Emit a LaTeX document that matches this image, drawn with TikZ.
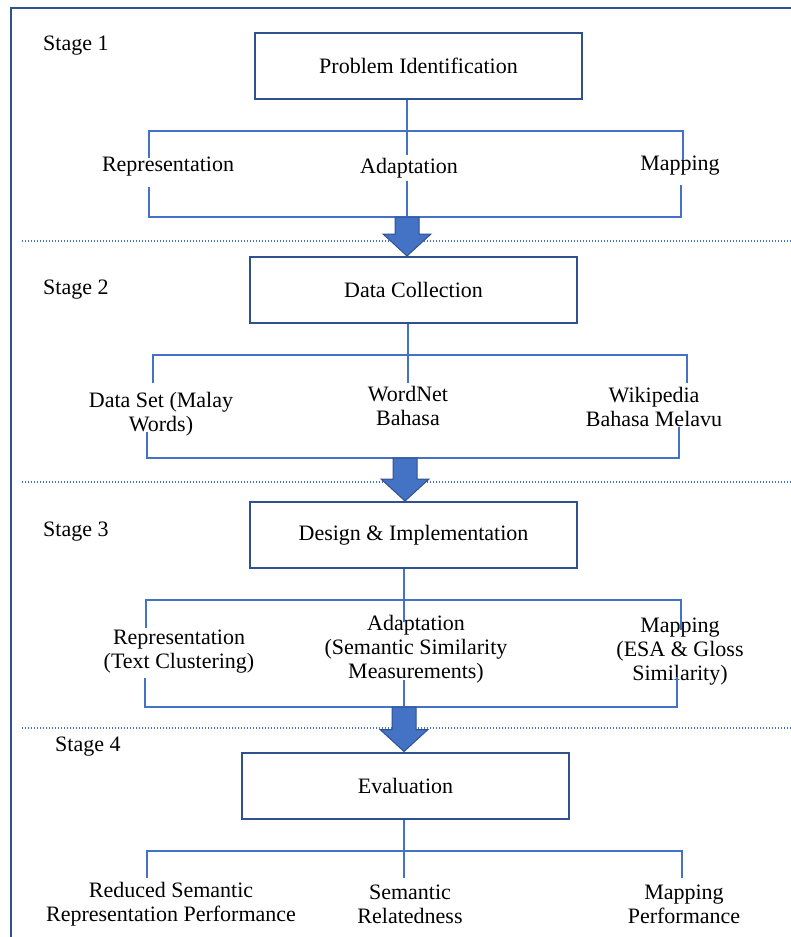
\documentclass[tikz,border=0pt]{standalone}
\usepackage{fontspec}
\setmainfont{Liberation Serif}
\usetikzlibrary{calc}
\definecolor{edgeblue}{HTML}{2F528F}
\definecolor{fillblue}{HTML}{4472C4}

\begin{document}
\begin{tikzpicture}[x=1pt,y=-1pt,
  box/.style={draw=edgeblue,line width=2pt,minimum width=327pt,minimum height=66pt,font=\fontsize{22}{24}\selectfont},
  item/.style={align=center,font=\fontsize{22}{24}\selectfont,inner sep=3pt},
  stagelbl/.style={anchor=west,font=\fontsize{22}{24}\selectfont,inner sep=0pt},
  link/.style={draw=fillblue,line width=1.6pt},
  sepline/.style={fillblue,line width=1.3pt,dash pattern=on 1.3pt off 1.7pt},
  blockarrow/.style={fill=fillblue,draw=edgeblue,line width=1pt,line join=miter}]
  \useasboundingbox (0,0) rectangle (791,937);

  % outer frame, cut by the page edge
  \draw[edgeblue,line width=1.8pt] (11,945) -- (11,8) -- (800,8);

  % stage separators
  \foreach \y in {241,482,728}
    \draw[sepline] (22,\y) -- (791,\y);

  % Stage 1
  \node[stagelbl] (st1) at (43,46) {Stage 1};
  \node[box] (b1) at (418.5,65.5) {Problem Identification};
  \node[item] (rep1) at (168,167) {Representation};
  \node[item] (ada1) at (409,168) {Adaptation};
  \node[item] (map1) at (680,166) {Mapping};
  \coordinate (s1) at (407,217);
  \draw[link] (149,158) -- (149,131) -- (683,131) -- (683,160);
  \draw[link] (149,187) -- (149,217) -- (681,217) -- (681,185);
  \draw[link] (b1.south -| s1) -- (ada1.north -| s1);
  \draw[link] (ada1.south -| s1) -- (s1);

  % Stage 2
  \node[stagelbl] (st2) at (43,290) {Stage 2};
  \node[box] (b2) at (413.5,290) {Data Collection};
  \node[item] (ds) at (161,414) {Data Set (Malay\\Words)};
  \node[item] (wn) at (408,406) {WordNet\\Bahasa};
  \node[item] (wk) at (654,407) {Wikipedia\\Bahasa Melavu};
  \coordinate (s2) at (405,458);
  \draw[link] (153,383) -- (153,355) -- (687,355) -- (687,383);
  \draw[link] (147,432) -- (147,458) -- (679,458) -- (679,427);
  \draw[link] (b2.south -| wn.north) -- (wn.north);

  % Stage 3
  \node[stagelbl] (st3) at (43,532) {Stage 3};
  \node[box] (b3) at (413.5,535) {Design \& Implementation};
  \node[item,inner sep=0pt] (rep3) at (179,651.5) {Representation\\(Text Clustering)};
  \node[item,inner sep=0pt] (ada3) at (416,649) {Adaptation\\(Semantic Similarity\\Measurements)};
  \node[item,inner sep=0pt] (map3) at (680,652) {Mapping\\(ESA \& Gloss\\Similarity)};
  \coordinate (s3) at (404,707);
  \draw[link] (146,628) -- (146,600) -- (681,600) -- (681,630);
  \draw[link] (145,678) -- (145,707) -- (677,707) -- (677,677);
  \draw[link] (b3.south -| s3) -- ([yshift=-7pt]ada3.north -| s3);
  \draw[link] ([yshift=3pt]ada3.south -| s3) -- (s3);

  % Stage 4
  \node[stagelbl] (st4) at (55,747) {Stage 4};
  \node[box] (b4) at (405.5,785.5) {Evaluation};
  \node[item] (red) at (171,904) {Reduced Semantic\\Representation Performance};
  \node[item] (sem) at (410,904) {Semantic\\Relatedness};
  \node[item] (mp4) at (684,904) {Mapping\\Performance};
  \coordinate (s4) at (404,878);
  \draw[link] (147,878) -- (147,851) -- (682,851) -- (682,878);
  \draw[link] (b4.south -| s4) -- (s4);

  % block arrows between stages
  \foreach \s/\t in {s1/b2,s2/b3,s3/b4}
    \draw[blockarrow] let \p1=(\s), \p2=(\s |- \t.north) in
      (\x1-12pt,\y1) -- (\x1+12pt,\y1) -- (\x1+12pt,\y2+22pt) -- (\x1+24pt,\y2+22pt)
      -- (\x1,\y2) -- (\x1-24pt,\y2+22pt) -- (\x1-12pt,\y2+22pt) -- cycle;
\end{tikzpicture}
\end{document}
